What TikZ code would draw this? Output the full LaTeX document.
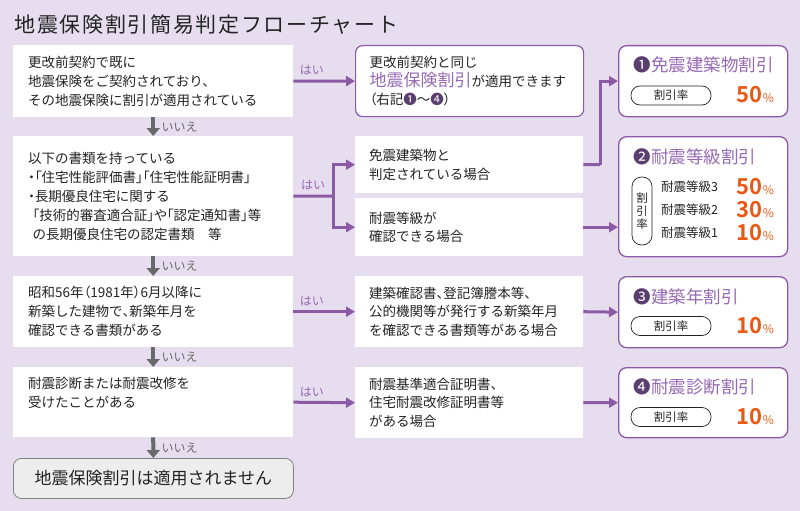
\documentclass[tikz,border=0pt]{standalone}
\usepackage{fontspec}
\setmainfont{Noto Sans CJK JP}[BoldFont={Noto Sans CJK JP Bold}]
\newfontfamily\titlefont{Noto Sans CJK JP}[LetterSpace=8]
\newfontfamily\paltfont{Noto Sans CJK JP}[RawFeature=+palt]
\usetikzlibrary{arrows.meta}
\usepackage{xcolor}
\definecolor{bgpurple}{RGB}{230,222,238}
\definecolor{linepurple}{RGB}{140,90,165}
\definecolor{headpurple}{RGB}{150,105,180}
\definecolor{numpurple}{RGB}{90,62,112}
\definecolor{pctorange}{RGB}{234,88,20}
\definecolor{nogray}{RGB}{105,105,105}
\definecolor{textdark}{RGB}{35,35,35}
\newcommand{\pct}[1]{{\fontsize{22}{22}\selectfont\bfseries #1}{\fontsize{12}{12}\selectfont\%}}
\newcommand{\numc}[1]{{\color{numpurple}#1}}

\begin{document}
\begin{tikzpicture}[x=1pt,y=-1pt,
        every node/.style={text=textdark},
        qbox/.style={fill=white,anchor=north west,text width=250pt,inner xsep=15pt,align=left,font=\fontsize{13.5}{19}\selectfont},
        mbox/.style={fill=white,anchor=north west,text width=200pt,inner xsep=14pt,align=left,font=\fontsize{13.5}{18.5}\selectfont},
        rbox/.style={draw=linepurple,line width=1.3pt,rounded corners=8pt,fill=white,anchor=north west,minimum width=169pt},
        rtitle/.style={anchor=west,text=headpurple,font=\fontsize{17.5}{17.5}\selectfont},
        pill/.style={draw=textdark,line width=0.7pt,rounded corners=9pt,fill=white,minimum width=80pt,minimum height=19pt,inner sep=0pt,font=\fontsize{11.5}{11.5}\selectfont},
        pctnode/.style={anchor=east,text=pctorange,inner sep=0pt},
        grade/.style={anchor=west,inner sep=0pt,font=\fontsize{12.5}{12.5}\selectfont},
        yes/.style={draw=linepurple,line width=3pt,-{Triangle[length=9pt,width=10pt]}},
        no/.style={draw=nogray,line width=4pt,-{Triangle[length=8pt,width=13pt]}},
        yeslabel/.style={above=1pt,text=headpurple,font=\fontsize{12}{12}\selectfont},
        nolabel/.style={right,xshift=3pt,text=nogray,font=\fontsize{12}{12}\selectfont}]

        \fill[bgpurple] (0,0) rectangle (800,511);
        \useasboundingbox (0,0) rectangle (800,511);

        \node[anchor=west,font=\titlefont\fontsize{21}{21}\selectfont] (title) at (11,25) {地震保険割引簡易判定フローチャート};

        % questions
        \node[qbox,minimum height=72pt] (L1) at (13,45) {更改前契約で既に\\地震保険をご契約されており、\\その地震保険に割引が適用されている};
        \node[qbox,minimum height=120pt] (L2) at (13,136) {以下の書類を持っている\\{\paltfont ・「住宅性能評価書」「住宅性能証明書」}\\{\paltfont ・}長期優良住宅に関する\\\ {\paltfont「技術的審査適合証」や「認定通知書」}等\\\ の長期優良住宅の認定書類\quad 等};
        \node[qbox,minimum height=71pt] (L3) at (13,276) {昭和56年{\paltfont（}1981年{\paltfont）}6月以降に\\新築した建物で{\paltfont 、}新築年月を\\確認できる書類がある};
        \node[qbox,minimum height=70pt] (L4) at (13,367) {耐震診断または耐震改修を\\受けたことがある\\\mbox{}};
        \node[fill=black!7,draw=black!50,line width=0.8pt,rounded corners=8pt,anchor=north west,minimum width=280pt,minimum height=40pt,font=\fontsize{17}{17}\selectfont] (LN) at (13,458) {地震保険割引は適用されません};

        % conditions
        \node[mbox,draw=linepurple,line width=1.2pt,rounded corners=7pt,minimum height=71pt] (M1) at (355,45) {更改前契約と同じ\\{\color{headpurple}\fontsize{17}{17}\selectfont 地震保険割引}が適用できます\\{\paltfont（}右記\numc{❶}～\numc{❹}{\paltfont）}};
        \node[mbox,minimum height=57pt] (M2a) at (355,136) {免震建築物と\\判定されている場合};
        \node[mbox,minimum height=58pt] (M2b) at (355,198) {耐震等級が\\確認できる場合};
        \node[mbox,minimum height=71pt] (M3) at (355,276) {建築確認書{\paltfont 、}登記簿謄本等{\paltfont 、}\\公的機関等が発行する新築年月\\を確認できる書類等がある場合};
        \node[mbox,minimum height=71pt] (M4) at (355,367) {耐震基準適合証明書、\\住宅耐震改修証明書等\\がある場合};

        % discounts
        \node[rbox,minimum height=71pt] (R1) at (618,45) {};
        \node[rtitle] (R1t) at (630,65) {\numc{❶}免震建築物割引};
        \node[pill] (R1p) at (671,95.5) {割引率};
        \node[pctnode] (R1v) at (774,95) {\pct{50}};

        \node[rbox,minimum height=120pt] (R2) at (618,136) {};
        \node[rtitle] (R2t) at (630,157) {\numc{❷}耐震等級割引};
        \node[draw=textdark,line width=0.7pt,rounded corners=9.5pt,fill=white,minimum width=20pt,minimum height=68pt,inner sep=0pt,align=center,font=\fontsize{11.5}{13}\selectfont] (R2p) at (642,211) {割\\引\\率};
        \node[grade] (G3) at (661,187) {耐震等級3};
        \node[grade] (G2) at (661,210) {耐震等級2};
        \node[grade] (G1) at (661,233) {耐震等級1};
        \node[pctnode] (V3) at (774,187) {\pct{50}};
        \node[pctnode] (V2) at (774,210) {\pct{30}};
        \node[pctnode] (V1) at (774,233) {\pct{10}};

        \node[rbox,minimum height=71pt] (R3) at (618,276) {};
        \node[rtitle] (R3t) at (630,297) {\numc{❸}建築年割引};
        \node[pill] (R3p) at (671,326) {割引率};
        \node[pctnode] (R3v) at (774,326) {\pct{10}};

        \node[rbox,minimum height=70pt] (R4) at (618,367) {};
        \node[rtitle] (R4t) at (630,387) {\numc{❹}耐震診断割引};
        \node[pill] (R4p) at (671,417) {割引率};
        \node[pctnode] (R4v) at (774,417) {\pct{10}};

        % arrows
        \foreach \a/\b in {L1/L2,L2/L3,L3/L4,L4/LN}
            \draw[no] (\a.south) -- node[nolabel] {いいえ} (\b.north);
        \foreach \a/\b in {L1/M1,L3/M3,L4/M4}
            \draw[yes] (\a.east) -- node[yeslabel,pos=0.3] {はい} (\b.west);

        \coordinate (split) at (333,196);
        \draw[draw=linepurple,line width=3pt] (L2.east) -- node[yeslabel,pos=0.5] {はい} (split);
        \draw[yes] (split) |- (M2a.west);
        \draw[yes] (split) |- (M2b.west);

        \coordinate (bend) at (600,164.5);
        \draw[draw=linepurple,line width=3pt] (M2a.east) -- (bend);
        \draw[yes] (bend) |- (R1.west);
        \draw[yes] (M2b.east) -- (M2b.east -| R2.west);
        \draw[yes] (M3.east) -- (R3.west);
        \draw[yes] (M4.east) -- (R4.west);

    \end{tikzpicture}
\end{document}
